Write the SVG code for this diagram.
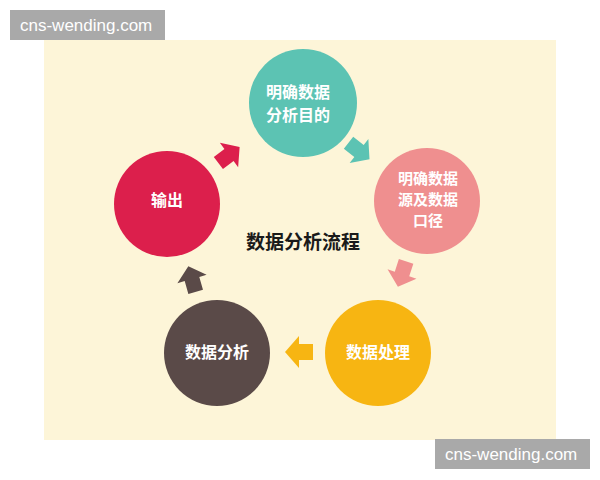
<svg xmlns="http://www.w3.org/2000/svg" width="600" height="480" viewBox="0 0 600 480">
<defs>
<style>
.wm{fill:#a9a9a9}
.wmt{fill:#ffffff;font-family:"Liberation Sans",Arial,sans-serif;font-size:17px}
.ct{fill:#ffffff;font-family:"Noto Sans CJK SC",sans-serif;font-size:16px;font-weight:bold;text-anchor:middle}
.cs{font-size:15px}
.title{fill:#1a1a1a;font-family:"Noto Sans CJK SC",sans-serif;font-size:19px;font-weight:bold;text-anchor:middle}
</style>
<path id="arr" d="M-14,-8 L0,-8 L0,-16 L14,0 L0,16 L0,8 L-14,8 Z"/>
</defs>
<rect width="600" height="480" fill="#ffffff"/>
<rect x="44" y="40" width="512" height="400" fill="#fdf5d8"/>

<g id="connectors">
<use href="#arr" fill="#dc1f4c" transform="translate(229,155) rotate(-37) scale(0.95)"/>
<use href="#arr" fill="#5cc3b3" transform="translate(359,151) rotate(38) scale(0.95)"/>
<use href="#arr" fill="#ef8f8f" transform="translate(402,274) rotate(108) scale(0.95)"/>
<use href="#arr" fill="#f7b512" transform="translate(299,352) rotate(180)"/>
<use href="#arr" fill="#5a4a48" transform="translate(192,279) rotate(-106) scale(0.95)"/>
</g>

<g id="node-goal">
<circle cx="303" cy="103" r="54" fill="#5cc3b3"/>
<text class="ct" x="298" y="98">明确数据</text>
<text class="ct" x="298" y="121">分析目的</text>
</g>
<g id="node-source">
<circle cx="427" cy="201" r="53" fill="#ef8f8f"/>
<text class="ct cs" x="428" y="184">明确数据</text>
<text class="ct cs" x="428" y="205">源及数据</text>
<text class="ct cs" x="428" y="226">口径</text>
</g>
<g id="node-process">
<circle cx="378" cy="353" r="53" fill="#f7b512"/>
<text class="ct" x="378" y="358">数据处理</text>
</g>
<g id="node-analysis">
<circle cx="217" cy="353" r="53" fill="#5a4a48"/>
<text class="ct" x="217" y="358">数据分析</text>
</g>
<g id="node-output">
<circle cx="167" cy="204" r="53" fill="#dc1f4c"/>
<text class="ct" x="167" y="206">输出</text>
</g>
<g id="title">
<text class="title" x="303" y="249">数据分析流程</text>
</g>

<rect class="wm" x="10" y="10" width="155" height="30"/>
<text class="wmt" x="20" y="31">cns-wending.com</text>
<rect class="wm" x="435" y="439" width="155" height="30"/>
<text class="wmt" x="445" y="460">cns-wending.com</text>
</svg>
